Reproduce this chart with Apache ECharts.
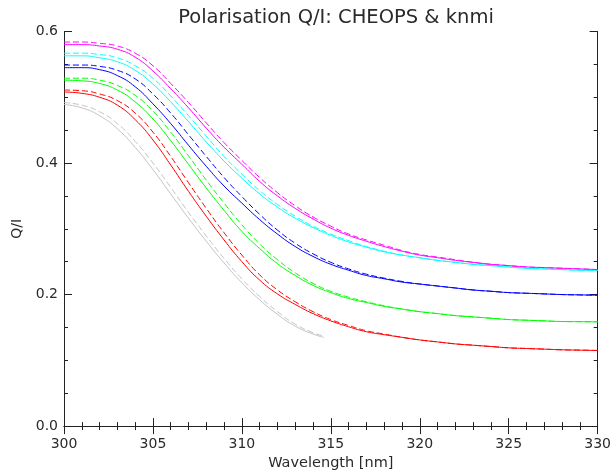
<!DOCTYPE html>
<html>
<head>
<meta charset="utf-8">
<script src="https://cdn.jsdelivr.net/npm/echarts@6/dist/echarts.min.js"></script>
<style>html,body{margin:0;padding:0;background:#fff}#c{width:614px;height:476px}</style>
</head>
<body>
<div id="c"></div>
<script>
const wavelengths = [300,301,302,303,304,305,306,307,308,309,310,311,312,313,314,315,316,317,318,319,320,321,322,323,324,325,326,327,328,329,330];
const magentaSolid = [0.580,0.580,0.578,0.573,0.561,0.540,0.513,0.484,0.453,0.424,0.398,0.372,0.350,0.331,0.315,0.301,0.290,0.281,0.273,0.266,0.260,0.256,0.252,0.249,0.246,0.244,0.242,0.241,0.240,0.239,0.238];
const magentaDashed = [0.584,0.584,0.582,0.578,0.567,0.548,0.521,0.492,0.461,0.431,0.404,0.378,0.355,0.335,0.318,0.304,0.292,0.283,0.275,0.267,0.261,0.257,0.253,0.249,0.246,0.244,0.242,0.241,0.240,0.239,0.238];
const cyanSolid = [0.563,0.563,0.560,0.554,0.541,0.520,0.493,0.463,0.432,0.403,0.377,0.353,0.333,0.316,0.302,0.290,0.280,0.272,0.265,0.260,0.256,0.252,0.249,0.246,0.244,0.242,0.240,0.239,0.238,0.237,0.2365];
const cyanDashed = [0.567,0.567,0.565,0.560,0.548,0.529,0.502,0.472,0.441,0.410,0.383,0.358,0.337,0.319,0.304,0.292,0.282,0.273,0.266,0.260,0.256,0.252,0.249,0.246,0.244,0.242,0.240,0.239,0.238,0.237,0.2365];
const blueSolid = [0.545,0.545,0.542,0.533,0.516,0.490,0.460,0.427,0.395,0.365,0.339,0.314,0.292,0.273,0.258,0.246,0.237,0.229,0.224,0.219,0.216,0.213,0.210,0.207,0.205,0.203,0.202,0.201,0.200,0.1995,0.199];
const blueDashed = [0.549,0.549,0.547,0.541,0.528,0.505,0.476,0.443,0.410,0.378,0.349,0.322,0.298,0.278,0.262,0.249,0.239,0.231,0.225,0.220,0.216,0.213,0.210,0.207,0.205,0.203,0.202,0.201,0.200,0.1995,0.199];
const greenSolid = [0.526,0.525,0.521,0.511,0.493,0.467,0.434,0.398,0.362,0.328,0.296,0.270,0.247,0.229,0.214,0.203,0.194,0.188,0.182,0.178,0.174,0.171,0.168,0.166,0.164,0.162,0.161,0.160,0.159,0.1588,0.1585];
const greenDashed = [0.529,0.529,0.526,0.518,0.503,0.479,0.447,0.411,0.374,0.339,0.306,0.277,0.253,0.233,0.217,0.205,0.196,0.189,0.183,0.178,0.174,0.171,0.168,0.166,0.164,0.162,0.161,0.160,0.159,0.1588,0.1585];
const redSolid = [0.508,0.506,0.500,0.488,0.466,0.435,0.397,0.357,0.319,0.283,0.250,0.222,0.201,0.185,0.171,0.160,0.151,0.1435,0.139,0.135,0.131,0.128,0.125,0.123,0.121,0.119,0.118,0.117,0.116,0.1155,0.115];
const redDashed = [0.511,0.510,0.505,0.495,0.476,0.447,0.410,0.370,0.331,0.294,0.260,0.230,0.207,0.189,0.174,0.162,0.153,0.145,0.140,0.135,0.131,0.128,0.125,0.123,0.121,0.119,0.118,0.117,0.116,0.1155,0.115];
const grayWavelengths = [300,301,302,303,304,305,306,307,308,309,310,311,312,313,314,314.6];
const graySolid = [0.489,0.484,0.472,0.452,0.424,0.390,0.353,0.316,0.281,0.248,0.218,0.192,0.170,0.152,0.140,0.135];
const grayDashed = [0.492,0.488,0.478,0.460,0.433,0.400,0.363,0.325,0.289,0.255,0.224,0.197,0.174,0.155,0.142,0.137];

const xTickLabels = ['300','305','310','315','320','325','330'];
const yTickLabels = ['0.0','0.2','0.4','0.6'];

function pairs(xs, ys){ return ys.map((v,i)=>[xs[i], v]); }

const FONT = 'DejaVu Sans';
const axisCol = '#222';
const textCol = '#2a2a2a';

function mk(name, xs, ys, color, dashed){
  return {
    name: name, type: 'line', data: pairs(xs, ys), showSymbol: false, symbol: 'none',
    smooth: 0.5, animation: false,
    lineStyle: { color: color, width: 1, type: dashed ? [6,3] : 'solid' },
    z: dashed ? 3 : 2
  };
}

const chart = echarts.init(document.getElementById('c'), null, {renderer:'canvas'});
const tickCommon = { show: true, inside: true, length: 8, lineStyle: { color: axisCol, width: 1 } };
chart.setOption({
  backgroundColor: '#fff',
  animation: false,
  title: {
    text: 'Polarisation Q/I: CHEOPS & knmi', left: 331, top: 3, textAlign: 'center',
    textStyle: { fontFamily: FONT, fontSize: 19.5, fontWeight: 'normal', color: textCol }
  },
  grid: { left: 64, right: 11, top: 31.5, bottom: 46.5, containLabel: false },
  xAxis: [
    { type: 'value', min: 300, max: 330, interval: 5, position: 'bottom',
      name: 'Wavelength [nm]', nameLocation: 'middle', nameGap: 29,
      nameTextStyle: { fontFamily: FONT, fontSize: 14.5, color: textCol },
      axisLine: { show: true, lineStyle: { color: axisCol, width: 1 } },
      axisTick: tickCommon,
      minorTick: { show: true, splitNumber: 5, length: 4, lineStyle: { color: axisCol } },
      splitLine: { show: false },
      axisLabel: { fontFamily: FONT, fontSize: 14, color: textCol, margin: 11,
        formatter: v => xTickLabels[Math.round((v-300)/5)] } },
    { type: 'value', min: 300, max: 330, interval: 5, position: 'top',
      axisLine: { show: true, lineStyle: { color: axisCol, width: 1 } },
      axisTick: tickCommon,
      minorTick: { show: true, splitNumber: 5, length: 4, lineStyle: { color: axisCol } },
      splitLine: { show: false }, axisLabel: { show: false } }
  ],
  yAxis: [
    { type: 'value', min: 0, max: 0.6, interval: 0.2, position: 'left',
      name: 'Q/I', nameLocation: 'middle', nameGap: 39, nameRotate: 90,
      nameTextStyle: { fontFamily: FONT, fontSize: 14, color: textCol },
      axisLine: { show: true, lineStyle: { color: axisCol, width: 1 } },
      axisTick: tickCommon,
      minorTick: { show: true, splitNumber: 4, length: 4, lineStyle: { color: axisCol } },
      splitLine: { show: false },
      axisLabel: { fontFamily: FONT, fontSize: 14, color: textCol, margin: 6,
        formatter: v => yTickLabels[Math.round(v/0.2)] } },
    { type: 'value', min: 0, max: 0.6, interval: 0.2, position: 'right',
      axisLine: { show: true, lineStyle: { color: axisCol, width: 1 } },
      axisTick: tickCommon,
      minorTick: { show: true, splitNumber: 4, length: 4, lineStyle: { color: axisCol } },
      splitLine: { show: false }, axisLabel: { show: false } }
  ],
  series: [
    mk('gray solid', grayWavelengths, graySolid, '#c4c4c4', false),
    mk('gray dashed', grayWavelengths, grayDashed, '#c4c4c4', true),
    mk('red solid', wavelengths, redSolid, '#ff0000', false),
    mk('red dashed', wavelengths, redDashed, '#ff0000', true),
    mk('green solid', wavelengths, greenSolid, '#00ff00', false),
    mk('green dashed', wavelengths, greenDashed, '#00ff00', true),
    mk('blue solid', wavelengths, blueSolid, '#0000ff', false),
    mk('blue dashed', wavelengths, blueDashed, '#0000ff', true),
    mk('cyan solid', wavelengths, cyanSolid, '#00ffff', false),
    mk('cyan dashed', wavelengths, cyanDashed, '#00ffff', true),
    mk('magenta solid', wavelengths, magentaSolid, '#ff00ff', false),
    mk('magenta dashed', wavelengths, magentaDashed, '#ff00ff', true)
  ]
});
</script>
</body>
</html>
